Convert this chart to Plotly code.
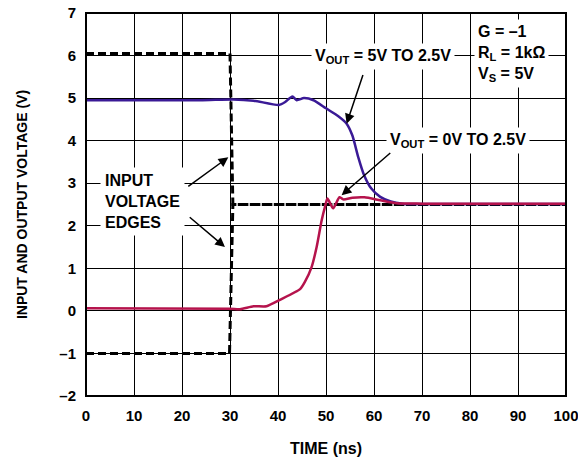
import plotly.graph_objects as go

# input steps (dashed)
vin_a_t = [0, 30.0, 30.6, 100]
vin_a_v = [6.05, 6.05, 2.5, 2.5]
vin_b_t = [0, 29.9, 30.6, 100]
vin_b_v = [-1.0, -1.0, 2.5, 2.5]

# VOUT = 5V to 2.5V (blue)
vout_hi_t = [0, 23.8, 30.7, 34.9, 40.2, 41.5, 43.0, 43.9, 45.4, 47.4, 50.0, 52.5,
             54.3, 55.5, 56.7, 57.9, 59.4, 61.3, 63.5, 66.0, 70, 100]
vout_hi_v = [4.95, 4.95, 4.97, 4.94, 4.84, 4.91, 5.04, 4.95, 5.0, 4.95, 4.76, 4.58,
             4.40, 4.12, 3.62, 3.2, 2.88, 2.68, 2.57, 2.52, 2.51, 2.51]

# VOUT = 0V to 2.5V (red)
vout_lo_t = [0, 30.0, 32.1, 34.9, 37.6, 40.4, 44.6, 45.6, 47.0, 48.05, 49.1, 49.8,
             50.3, 51.5, 52.8, 53.6, 55.5, 58.0, 61.3, 64.7, 70, 100]
vout_lo_v = [0.06, 0.05, 0.04, 0.11, 0.11, 0.26, 0.51, 0.68, 1.03, 1.50, 2.13, 2.45,
             2.64, 2.41, 2.67, 2.62, 2.66, 2.67, 2.60, 2.53, 2.52, 2.52]

x_ticks = list(range(0, 101, 10))
y_ticks = [-2, -1, 0, 1, 2, 3, 4, 5, 6, 7]
y_labels = ["–2", "–1", "0", "1", "2", "3", "4", "5", "6", "7"]

FONT = "Liberation Sans, Arial, sans-serif"
BLUE = "#3a1a96"
RED = "#b5134c"

fig = go.Figure()
dash = dict(color="black", width=3, dash="8px,4px")
fig.add_trace(go.Scatter(x=vin_a_t, y=vin_a_v, mode="lines", line=dash))
fig.add_trace(go.Scatter(x=vin_b_t, y=vin_b_v, mode="lines", line=dash))
fig.add_trace(go.Scatter(x=vout_hi_t, y=vout_hi_v, mode="lines",
                         line=dict(color=BLUE, width=2.5, shape="spline", smoothing=0.6)))
fig.add_trace(go.Scatter(x=vout_lo_t, y=vout_lo_v, mode="lines",
                         line=dict(color=RED, width=2.5, shape="spline", smoothing=0.6)))

lab = dict(family=FONT, size=16, color="black", weight="bold")

# text labels with white background over the grid
fig.add_annotation(x=61.8, y=5.98, text="V<sub>OUT</sub> = 5V TO 2.5V", showarrow=False,
                   font=lab, bgcolor="white", borderpad=3)
fig.add_annotation(x=77.5, y=4.0, text="V<sub>OUT</sub> = 0V TO 2.5V", showarrow=False,
                   font=lab, bgcolor="white", borderpad=3)
fig.add_annotation(x=80.8, y=6.05, text="G = –1<br>R<sub>L</sub> = 1kΩ<br>V<sub>S</sub> = 5V",
                   showarrow=False, xanchor="left", align="left", font=lab,
                   bgcolor="white", borderpad=3)
fig.add_annotation(x=3.0, y=2.56, text="INPUT<br>VOLTAGE<br>EDGES", showarrow=False,
                   xanchor="left", align="left", font=lab, bgcolor="white", borderpad=4)

# arrows
arrows = [(57.8, 5.58, 54.3, 4.40), (63.7, 3.74, 53.25, 2.72),
          (21.0, 2.90, 29.65, 3.61), (21.3, 2.23, 28.95, 1.50)]
for tx, ty, hx, hy in arrows:
    fig.add_annotation(x=hx, y=hy, ax=tx, ay=ty, axref="x", ayref="y", text="",
                       showarrow=True, arrowhead=2, arrowsize=1.3, arrowwidth=1.5,
                       arrowcolor="black")

# frame round the plot area
fig.add_shape(type="rect", xref="paper", yref="paper", x0=0, x1=1, y0=0, y1=1,
              line=dict(color="black", width=2), layer="above")

fig.update_layout(
    width=578, height=457,
    margin=dict(l=86, r=12, t=13, b=61, autoexpand=False),
    paper_bgcolor="white", plot_bgcolor="white",
    showlegend=False,
    font=dict(family=FONT, size=16, color="black", weight="bold"),
)
fig.update_xaxes(range=[0, 100], tickmode="array", tickvals=x_ticks, showgrid=True,
                 gridcolor="black", gridwidth=1, zeroline=False, showline=False,
                 ticks="outside", ticklen=6, tickcolor="white", automargin=False,
                 ticklabeloverflow="allow", tickfont=dict(size=15),
                 title=dict(text="TIME (ns)", font=dict(size=16), standoff=19))
fig.update_yaxes(range=[-2, 7], tickmode="array", tickvals=y_ticks, ticktext=y_labels,
                 showgrid=True, gridcolor="black", gridwidth=1, zeroline=False,
                 showline=False, ticks="outside", ticklen=6, tickcolor="white",
                 automargin=False, ticklabeloverflow="allow", tickfont=dict(size=15),
                 title=dict(text="INPUT AND OUTPUT VOLTAGE (V)", font=dict(size=14),
                            standoff=28))

# drop the default 8px page margin so the figure sits at the window corner
fig.write_html("out.html", config={"displayModeBar": False},
               post_script="document.body.style.margin='0';"
                           "document.body.style.overflow='hidden';")
